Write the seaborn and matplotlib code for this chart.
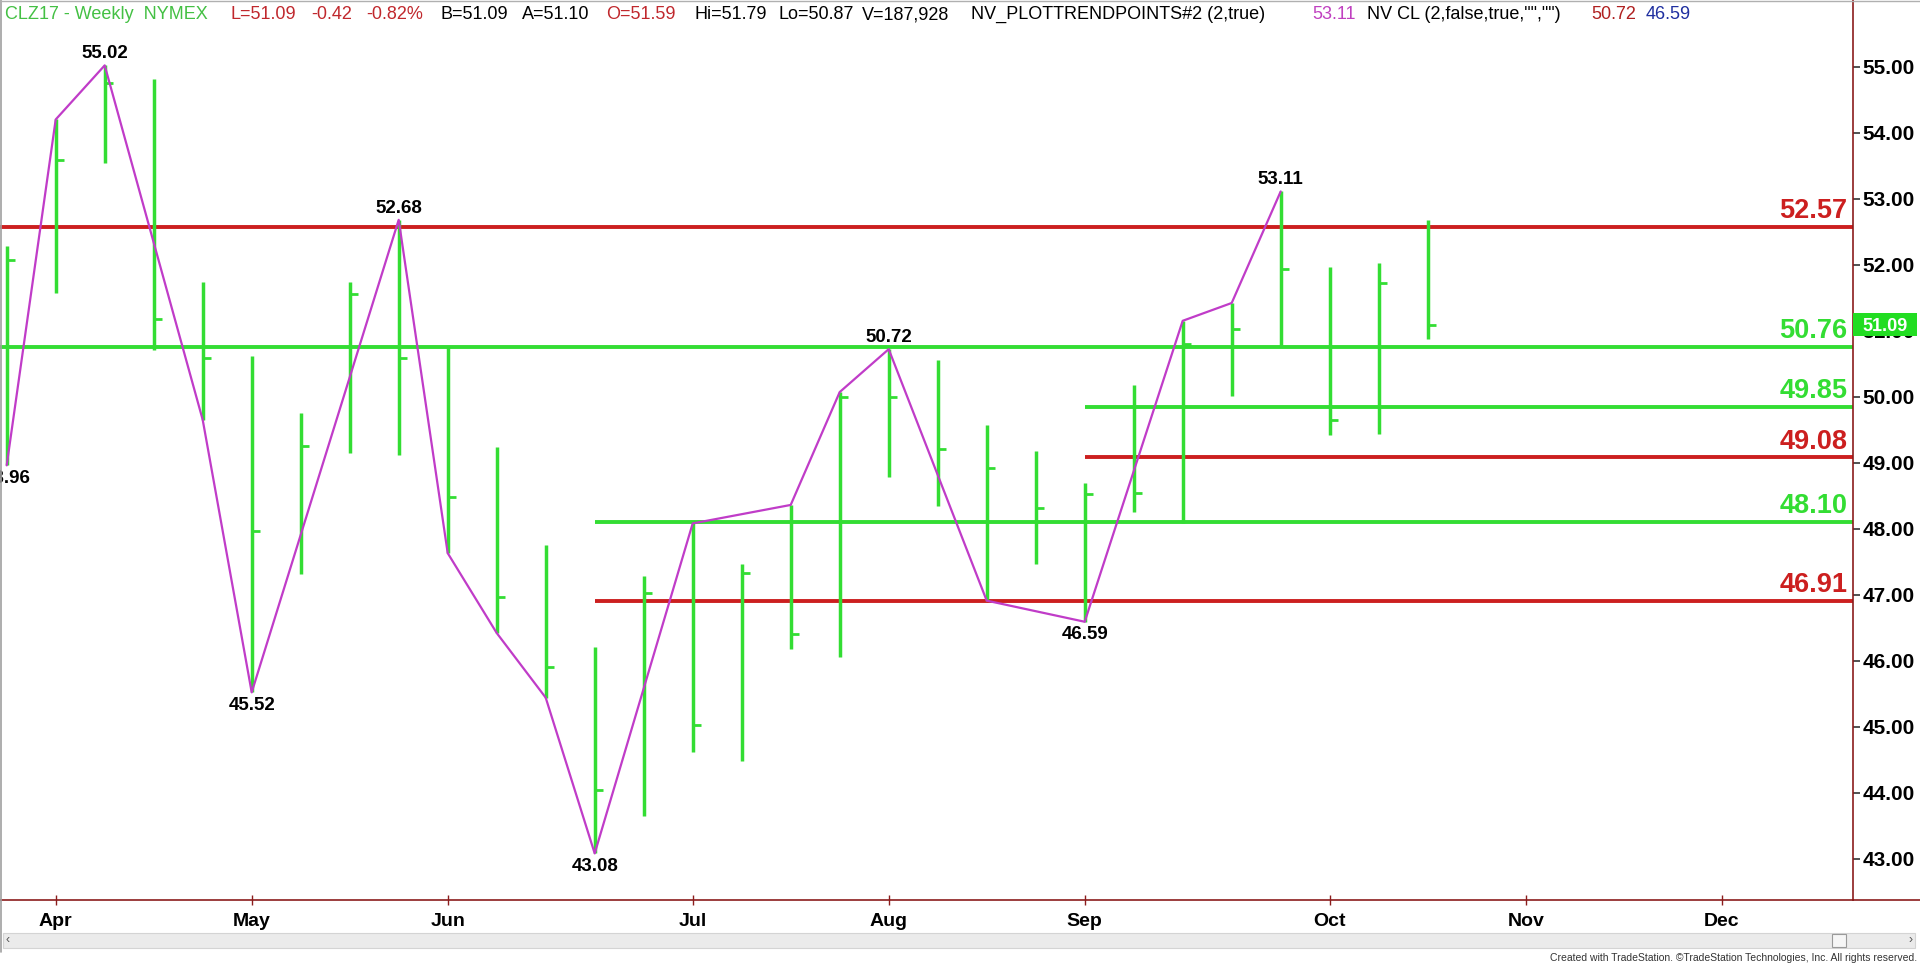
import matplotlib
matplotlib.use("Agg")
import matplotlib.pyplot as plt
import matplotlib.dates as mdates
from matplotlib.lines import Line2D
from matplotlib.patches import Rectangle
from matplotlib.transforms import blended_transform_factory
import seaborn as sns
import pandas as pd
import numpy as np

# ---------------- data ----------------
week_dates = ["2017-03-31", "2017-04-07", "2017-04-14", "2017-04-21", "2017-04-28",
              "2017-05-05", "2017-05-12", "2017-05-19", "2017-05-26", "2017-06-02",
              "2017-06-09", "2017-06-16", "2017-06-23", "2017-06-30", "2017-07-07",
              "2017-07-14", "2017-07-21", "2017-07-28", "2017-08-04", "2017-08-11",
              "2017-08-18", "2017-08-25", "2017-09-01", "2017-09-08", "2017-09-15",
              "2017-09-22", "2017-09-29", "2017-10-06", "2017-10-13", "2017-10-20"]
bar_high = [52.28, 54.20, 55.02, 54.81, 51.74, 50.61, 49.76, 51.74, 52.68, 50.76,
            49.24, 47.75, 46.21, 47.29, 48.08, 47.47, 48.36, 50.07, 50.72, 50.56,
            49.57, 49.17, 48.69, 50.18, 51.15, 51.42, 53.11, 51.97, 52.03, 52.67]
bar_low = [48.96, 51.57, 53.54, 50.71, 49.65, 45.52, 47.32, 49.15, 49.11, 47.63,
           46.42, 45.44, 43.08, 43.64, 44.62, 44.48, 46.17, 46.06, 48.78, 48.34,
           46.91, 47.47, 46.59, 48.25, 48.08, 50.01, 50.76, 49.42, 49.44, 50.87]
bar_close = [52.07, 53.59, 54.76, 51.18, 50.59, 47.96, 49.25, 51.56, 50.59, 48.48,
             46.96, 45.91, 44.04, 47.02, 45.02, 47.33, 46.41, 50.00, 50.00, 49.21,
             48.92, 48.32, 48.52, 48.54, 50.80, 51.02, 51.94, 49.64, 51.73, 51.09]

trend_dates = ["2017-03-31", "2017-04-07", "2017-04-14", "2017-04-28", "2017-05-05",
               "2017-05-26", "2017-06-02", "2017-06-09", "2017-06-16", "2017-06-23",
               "2017-07-07", "2017-07-21", "2017-07-28", "2017-08-04", "2017-08-18",
               "2017-09-01", "2017-09-15", "2017-09-22", "2017-09-29"]
trend_values = [48.96, 54.20, 55.02, 49.65, 45.52, 52.68, 47.63, 46.42, 45.44, 43.08,
                48.08, 48.36, 50.07, 50.72, 46.91, 46.59, 51.15, 51.42, 53.11]

pivot_dates = ["2017-03-31", "2017-04-14", "2017-05-05", "2017-05-26", "2017-06-23",
               "2017-08-04", "2017-09-01", "2017-09-29"]
pivot_values = [48.96, 55.02, 45.52, 52.68, 43.08, 50.72, 46.59, 53.11]
pivot_side = ["below", "above", "below", "above", "below", "above", "below", "above"]

level_values = [52.57, 50.76, 49.85, 49.08, 48.10, 46.91]
level_kind = ["red", "green", "green", "red", "green", "red"]
level_start = [None, None, "2017-09-01", "2017-09-01", "2017-06-23", "2017-06-23"]

month_tick_dates = ["2017-04-07", "2017-05-05", "2017-06-02", "2017-07-07", "2017-08-04",
                    "2017-09-01", "2017-10-06", "2017-11-03", "2017-12-01"]
month_labels = ["Apr", "May", "Jun", "Jul", "Aug", "Sep", "Oct", "Nov", "Dec"]
price_ticks = [43, 44, 45, 46, 47, 48, 49, 50, 51, 52, 53, 54, 55]
last_price = 51.09

title_parts = [
    ("CLZ17 - Weekly  NYMEX", "#44c044", 5),
    ("L=51.09", "#c0282d", 230),
    ("-0.42", "#c0282d", 311),
    ("-0.82%", "#c0282d", 366),
    ("B=51.09", "black", 440),
    ("A=51.10", "black", 522),
    ("O=51.59", "#c0282d", 606),
    ("Hi=51.79", "black", 694),
    ("Lo=50.87", "black", 778),
    ("V=187,928", "black", 862),
    ("NV_PLOTTRENDPOINTS#2 (2,true)", "black", 971),
    ("53.11", "#c040c0", 1312),
    ('NV CL (2,false,true,"","")', "black", 1367),
    ("50.72", "#b02020", 1591),
    ("46.59", "#1f2fa0", 1646),
]

# ---------------- style ----------------
GREEN = "#33dd33"
RED = "#cc1f1f"
MAGENTA = "#c03cc8"
AXIS = "#8b1c1c"

sns.set_theme(style="white")
plt.rcParams["font.family"] = ["Liberation Sans", "DejaVu Sans"]

W, H = 1920, 964
fig = plt.figure(figsize=(W / 100, H / 100), dpi=100)
ax_right_px = 1852.7
ax_bottom_px = 900
ax = fig.add_axes([0, (H - ax_bottom_px) / H, ax_right_px / W, ax_bottom_px / H])
ax.set_facecolor("white")

dates = pd.to_datetime(pd.Series(week_dates))
xnum = mdates.date2num(dates)
ref = mdates.date2num(pd.Timestamp("2017-04-07"))
px_per_day = 7.0
x_left = ref - 55.7 / px_per_day
x_right = ref + (ax_right_px - 55.7) / px_per_day
y_per_px = 1 / 66.0
y_top = 55 + 66.7 * y_per_px
y_bot = 55 - (ax_bottom_px - 66.7) * y_per_px

# level lines
for v, kind, st in zip(level_values, level_kind, level_start):
    xs = x_left if st is None else mdates.date2num(pd.Timestamp(st))
    ax.hlines(v, xs, x_right, color=GREEN if kind == "green" else RED, lw=2.8, zorder=2)

# HLC bars
ax.vlines(xnum, bar_low, bar_high, color=GREEN, lw=2.5, zorder=3)
ax.hlines(bar_close, xnum, xnum + 1.15, color=GREEN, lw=2.0, zorder=3)

# trend zigzag
trend_df = pd.DataFrame({"date": pd.to_datetime(trend_dates), "value": trend_values})
sns.lineplot(data=trend_df, x="date", y="value", sort=False, estimator=None,
             color=MAGENTA, lw=1.6, ax=ax, zorder=4)

# pivot labels
for d, v, side in zip(pivot_dates, pivot_values, pivot_side):
    xd = mdates.date2num(pd.Timestamp(d))
    if side == "above":
        ax.annotate(f"{v:.2f}", xy=(xd, v), xytext=(0, 5), textcoords="offset points",
                    ha="center", va="baseline", fontsize=13.5, fontweight="bold",
                    color="black", zorder=5, annotation_clip=False)
    else:
        ax.annotate(f"{v:.2f}", xy=(xd, v), xytext=(0, -3), textcoords="offset points",
                    ha="center", va="top", fontsize=13.5, fontweight="bold",
                    color="black", zorder=5, annotation_clip=False)

# level labels
bt = blended_transform_factory(ax.transAxes, ax.transData)
for v, kind in zip(level_values, level_kind):
    ax.annotate(f"{v:.2f}", xy=(1 - 5.4 / ax_right_px, v), xycoords=bt,
                xytext=(0, 6.3), textcoords="offset points", ha="right", va="baseline",
                fontsize=19.5, fontweight="bold",
                color=GREEN if kind == "green" else RED, zorder=6)

ax.set_xlim(x_left, x_right)
ax.set_ylim(y_bot, y_top)

# axes styling
for s in ["top", "left"]:
    ax.spines[s].set_visible(False)
for s in ["right", "bottom"]:
    ax.spines[s].set_color(AXIS)
    ax.spines[s].set_linewidth(1.2)
ax.yaxis.tick_right()
ax.set_yticks(price_ticks)
ax.set_yticklabels([f"{t:.2f}" for t in price_ticks], fontsize=15, fontweight="bold", color="black")
ax.tick_params(axis="y", which="both", right=True, left=False, length=5, width=1.2,
               color="#333333", pad=2, direction="out")
ax.set_xticks(mdates.date2num(pd.to_datetime(month_tick_dates)))
ax.set_xticklabels(month_labels, fontsize=14, fontweight="bold", color="black")
ax.tick_params(axis="x", which="both", bottom=True, length=7, width=1.0, color=AXIS,
               pad=6, direction="inout")
ax.set_xlabel("")
ax.set_ylabel("")
ax.grid(False)

# last price marker
fbt = blended_transform_factory(fig.transFigure, ax.transData)
ax.add_patch(Rectangle((1853 / W, last_price - 11.5 * y_per_px), 64 / W, 23 * y_per_px,
                       transform=fbt, facecolor="#22dd22", edgecolor="none",
                       clip_on=False, zorder=7))
ax.text(1885 / W, last_price, f"{last_price:.2f}", transform=fbt, ha="center",
        va="center_baseline", fontsize=13, fontweight="bold", color="white",
        zorder=8, clip_on=False)

# bottom line extending to right edge
fig.add_artist(Line2D([ax_right_px / W, 1.0], [(H - ax_bottom_px) / H] * 2,
                      transform=fig.transFigure, color=AXIS, lw=1.2))
# window borders
fig.add_artist(Line2D([0.7 / W, 0.7 / W], [(H - 952) / H, 1.0], transform=fig.transFigure,
                      color="#a0a0a0", lw=1.2))
fig.add_artist(Line2D([0, 1], [1 - 0.5 / H, 1 - 0.5 / H], transform=fig.transFigure,
                      color="#b0b0b0", lw=1.0))

# title
for text, col, xpx in title_parts:
    fig.text(xpx / W, 1 - 14.5 / H, text, color=col, fontsize=13.0, ha="left",
             va="center")

# scrollbar
fig.add_artist(Rectangle((3 / W, (H - 948) / H), (1915 - 3) / W, 15 / H,
                         transform=fig.transFigure, facecolor="#ebebeb",
                         edgecolor="#d4d4d4", lw=0.8))
fig.add_artist(Rectangle((1832 / W, (H - 947) / H), 14 / W, 13 / H,
                         transform=fig.transFigure, facecolor="#f6f6f6",
                         edgecolor="#9a9a9a", lw=0.8))
fig.text(8 / W, 1 - 940.5 / H, "\u2039", fontsize=9, color="#555555", ha="center", va="center")
fig.text(1911 / W, 1 - 940.5 / H, "\u203a", fontsize=9, color="#555555", ha="center", va="center")
fig.text(1917 / W, 1 - 958 / H,
         "Created with TradeStation. \u00a9TradeStation Technologies, Inc. All rights reserved.",
         fontsize=7.5, color="#333333", ha="right", va="center")

fig.savefig("out.png", dpi=100, facecolor="white")
